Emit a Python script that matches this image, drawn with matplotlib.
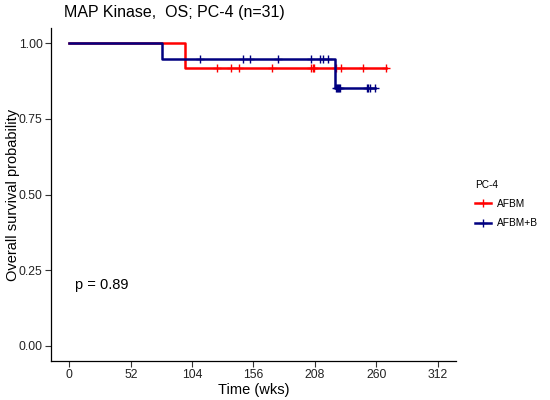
import numpy as np
from matplotlib import pyplot as plt
from matplotlib.lines import Line2D

plt.rcParams['font.family'] = ['Liberation Sans', 'DejaVu Sans']

# follow-up times (weeks) and event flags (1 = death, 0 = censored)
afbm_time = [98.3, 125.2, 137.1, 143.9, 171.3, 204.9, 206.0, 207.1, 225.5, 229.8, 248.7, 267.9]
afbm_event = [1, 0, 0, 0, 0, 0, 0, 0, 0, 0, 0, 0]
afbmb_time = [78.6, 110.5, 147.5, 152.9, 176.9, 204.9, 212.2, 214.8, 219.3, 225.0,
              226.1, 226.8, 227.8, 228.5, 229.2, 252.4, 253.3, 254.3, 258.8]
afbmb_event = [1, 0, 0, 0, 0, 0, 0, 0, 0, 1, 0, 0, 0, 0, 0, 0, 0, 0, 0]
groups = ["AFBM", "AFBM+B"]
colors = ["#FF0000", "#000080"]
pval_text = "p = 0.89"
x_ticks = [0, 52, 104, 156, 208, 260, 312]
y_ticks = [0.0, 0.25, 0.5, 0.75, 1.0]


def km(times, events):
    t = np.array(times)
    e = np.array(events)
    order = np.argsort(t)
    t, e = t[order], e[order]
    surv = 1.0
    xs, ys = [0.0], [1.0]
    cx, cy = [], []
    n = len(t)
    for i, (ti, ei) in enumerate(zip(t, e)):
        at_risk = n - i
        if ei == 1:
            surv *= (1 - 1 / at_risk)
            xs.append(ti)
            ys.append(surv)
        else:
            cx.append(ti)
            cy.append(surv)
    xs.append(t[-1])
    ys.append(surv)
    return xs, ys, cx, cy


fig = plt.figure(figsize=(5.5, 4), dpi=100)
ax = fig.add_axes([51 / 550, 39 / 400, 405 / 550, 333 / 400])

data = [(afbm_time, afbm_event), (afbmb_time, afbmb_event)]
for (tt, ee), col in zip(data, colors):
    xs, ys, cx, cy = km(tt, ee)
    ax.step(xs, ys, where='post', color=col, lw=1.8)
    ax.plot(cx, cy, ls='none', marker='+', ms=6, mew=1.0, color=col)

ax.set_xlim(-15.6, 327.6)
ax.set_ylim(-0.05, 1.05)
ax.set_xticks(x_ticks)
ax.set_yticks(y_ticks)
ax.set_yticklabels([f"{v:.2f}" for v in y_ticks])
ax.tick_params(labelsize=8.8, length=4, width=0.8, pad=2, color='#333333', labelcolor='#222222')
for s in ['top', 'right']:
    ax.spines[s].set_visible(False)
for s in ['left', 'bottom']:
    ax.spines[s].set_linewidth(0.9)

ax.set_xlabel("Time (wks)", fontsize=10.5)
ax.set_ylabel("Overall survival probability", fontsize=10.5)
ax.xaxis.set_label_coords(0.5, -0.066)
ax.yaxis.set_label_coords(-0.077, 0.5)
ax.text(5, 0.2, pval_text, fontsize=10.5, va='center', ha='left')

fig.text(64 / 550, 1 - 13 / 400, "MAP Kinase,  OS; PC-4 (n=31)", fontsize=11.5, va='center', ha='left')

handles = [Line2D([], [], color=c, lw=1.8, marker='+', ms=6, mew=1.0) for c in colors]
leg = fig.legend(handles, groups, title="PC-4", loc='center left', bbox_to_anchor=(466 / 550, 0.49),
                 frameon=False, fontsize=7.3, title_fontsize=7.3, handlelength=1.6, handletextpad=0.6,
                 labelspacing=0.9)
leg._legend_box.align = "left"

fig.savefig("out.png", dpi=100)
